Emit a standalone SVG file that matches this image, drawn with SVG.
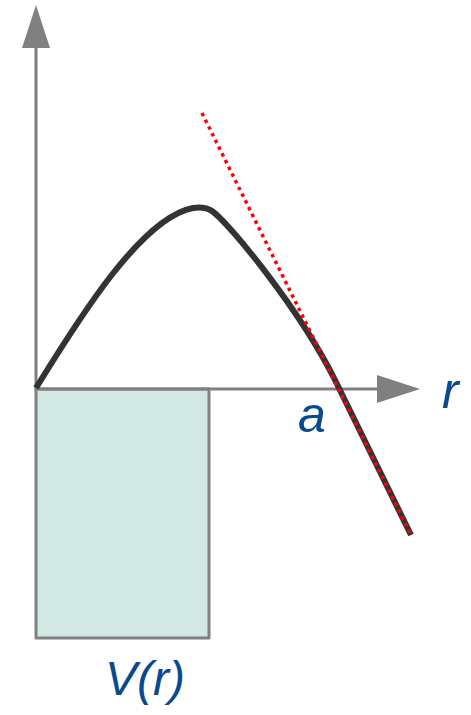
<svg xmlns="http://www.w3.org/2000/svg" width="471" height="715" viewBox="0 0 471 715">
<style>
.axis{stroke:#808080;stroke-width:3;fill:none}
.head{fill:#808080}
.lbl{font-family:"Liberation Sans",Arial,sans-serif;font-style:italic;fill:#0a4a8c}
</style>
<rect width="471" height="715" fill="#ffffff"/>
<g id="box">
<rect x="36" y="389" width="173" height="249" fill="#d1e8e5" stroke="#808080" stroke-width="3" stroke-linejoin="round"/>
</g>
<g id="axes">
<line class="axis" x1="36" y1="390" x2="36" y2="46"/>
<polygon class="head" points="36,5 50,48 22,48"/>
<line class="axis" x1="35" y1="389" x2="379" y2="389"/>
<polygon class="head" points="420,389 377,375 377,403"/>
</g>
<g id="curve">
<path d="M36,388 C75,325 140,218 193,208 C200,207 206,207 212,211 C230,224 300,310 335,380 L411,535" fill="none" stroke="#333333" stroke-width="6" stroke-linejoin="round"/>
</g>
<g id="tangent">
<line x1="202" y1="113" x2="411" y2="535" stroke="#ff0000" stroke-width="3.5" stroke-dasharray="3.5 4"/>
</g>
<g id="labels">
<text class="lbl" x="442" y="408" font-size="50">r</text>
<text class="lbl" x="298" y="432" font-size="50">a</text>
<text class="lbl" x="105" y="695" font-size="48">V(r)</text>
</g>
</svg>
